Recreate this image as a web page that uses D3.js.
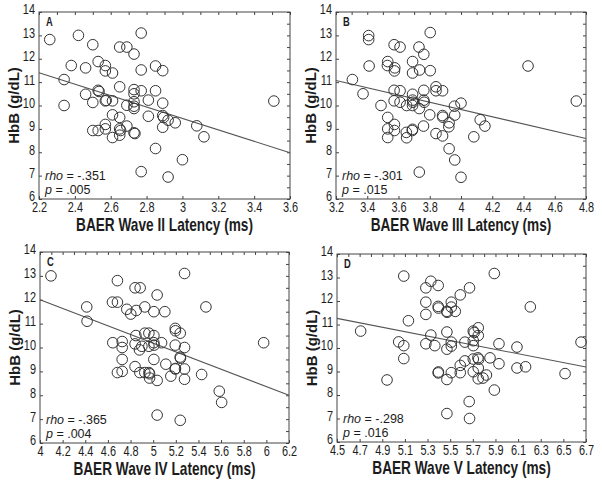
<!DOCTYPE html>
<html>
<head>
<meta charset="utf-8">
<script src="https://cdn.jsdelivr.net/npm/d3@7"></script>
<style>
  body { margin: 0; background: #fff; }
  text { font-family: "Liberation Sans", Arial, sans-serif; fill: #1c1c1c; }
</style>
</head>
<body>
<svg id="chart" width="602" height="483"></svg>
<script>
// ---- data ----
var hbTicks = [6, 7, 8, 9, 10, 11, 12, 13, 14];

// panel A: wave II latency vs HbB
var latA = [2.26,2.42,2.50,2.77,2.65,2.69,2.73,2.53,2.38,2.57,2.46,2.57,2.61,2.77,2.85,2.89,2.34,2.65,2.53,2.535,2.73,2.73,2.77,2.85,2.46,2.34,2.50,2.57,2.575,2.61,2.69,2.73,2.73,2.73,2.81,2.89,2.61,2.65,2.81,2.89,2.895,2.92,2.96,2.57,2.57,2.50,2.53,2.65,2.655,2.69,2.89,3.08,3.12,2.61,2.65,2.73,2.735,2.85,3.00,2.77,2.92,3.51];
var hbA  = [12.82,13.0,12.6,13.1,12.5,12.5,12.2,11.88,11.71,11.71,11.61,11.48,11.39,11.52,11.69,11.49,11.11,10.8,10.65,10.6,10.68,10.5,10.63,10.63,10.48,10.0,10.13,10.2,10.22,10.2,10.01,10.16,9.97,9.87,10.23,10.1,9.6,9.49,9.54,9.57,9.49,9.37,9.26,9.19,9.0,8.93,8.93,9.0,8.93,9.12,9.07,9.13,8.66,8.63,8.73,8.83,8.8,8.16,7.68,7.17,6.94,10.19];
var ticksA = [2.2, 2.4, 2.6, 2.8, 3, 3.2, 3.4, 3.6];
var fitA = [11.4, 7.98];

// panel B: wave III latency vs HbB
var latB = [3.305,3.373,3.409,3.409,3.412,3.488,3.531,3.529,3.531,3.531,3.531,3.572,3.61,3.576,3.574,3.572,3.61,3.572,3.61,3.574,3.574,3.652,3.65,3.652,3.69,3.69,3.69,3.69,3.692,3.69,3.69,3.688,3.731,3.735,3.733,3.733,3.762,3.762,3.762,3.764,3.76,3.803,3.803,3.80,3.84,3.84,3.84,3.882,3.882,3.884,3.882,3.924,3.922,3.924,3.958,3.96,3.96,4.0,4.0,4.082,4.123,4.153,4.429,4.738];
var hbB  = [11.11,10.5,12.99,12.82,11.69,10.0,11.88,11.71,9.49,9.0,8.63,12.6,12.5,11.61,11.48,10.65,10.63,10.2,10.14,9.19,8.93,10.0,8.85,8.62,11.88,11.39,10.48,10.23,10.14,10.0,8.98,8.93,12.5,11.52,9.87,7.15,12.19,10.65,10.23,10.14,9.12,13.12,11.49,9.6,10.8,10.63,8.8,10.63,9.57,9.5,8.7,9.26,9.09,8.15,9.97,9.59,7.67,10.1,6.93,8.66,9.39,9.12,11.69,10.19];
var ticksB = [3.2, 3.4, 3.6, 3.8, 4, 4.2, 4.4, 4.6, 4.8];
var fitB = [11.07, 8.59];

// panel C: wave IV latency vs HbB
var latC = [4.097,4.684,4.84,4.885,5.035,5.277,4.64,4.684,4.413,4.767,4.85,4.802,4.926,5.006,5.103,5.466,4.416,5.195,5.197,5.239,4.847,4.926,4.962,5.006,4.643,4.726,4.726,4.84,4.9,4.879,4.962,5.006,5.008,5.074,5.195,5.277,4.726,5.006,5.112,5.239,5.241,5.195,5.197,5.277,4.84,4.684,4.726,4.882,4.926,4.962,4.968,4.968,5.035,5.156,5.277,5.428,5.584,5.605,5.035,5.239,5.976];
var hbC  = [13.0,12.8,12.5,12.5,12.2,13.1,11.9,11.9,11.7,11.6,11.55,11.4,11.7,11.5,11.5,11.7,11.1,10.8,10.7,10.6,10.5,10.6,10.6,10.5,10.2,10.25,10.0,10.15,10.05,9.9,10.05,10.2,10.1,10.2,10.1,10.0,9.5,9.5,9.3,9.6,9.55,9.1,9.12,9.1,9.2,8.95,9.0,8.95,8.95,8.95,8.9,8.72,8.62,8.8,8.67,8.87,8.17,7.7,7.17,6.95,10.2];
var ticksC = [4, 4.2, 4.4, 4.6, 4.8, 5, 5.2, 5.4, 5.6, 5.8, 6, 6.2];
var fitC = [12.0, 8.0];

// panel D: wave V latency vs HbB
var latD = [4.709,4.942,5.045,5.09,5.09,5.09,5.131,5.285,5.329,5.394,5.285,5.285,5.329,5.285,5.364,5.394,5.396,5.394,5.396,5.471,5.473,5.51,5.51,5.545,5.471,5.471,5.51,5.51,5.51,5.471,5.471,5.589,5.671,5.589,5.589,5.63,5.63,5.668,5.671,5.704,5.712,5.748,5.748,5.704,5.704,5.704,5.704,5.745,5.752,5.748,5.748,5.79,5.82,5.852,5.89,5.89,5.931,5.931,6.09,6.09,6.166,6.208,6.515,6.656];
var hbD  = [10.72,8.64,10.26,10.1,9.55,13.06,11.16,12.56,12.84,12.66,11.95,11.43,10.55,10.18,10.1,11.77,11.7,8.94,8.98,11.56,11.52,11.95,11.74,11.56,10.68,9.95,10.25,10.08,8.95,8.66,7.21,12.26,12.56,9.26,8.95,9.45,10.25,7.72,7.0,10.72,10.66,10.86,10.53,10.31,10.1,9.53,8.99,9.58,9.52,9.15,8.69,8.72,8.85,9.58,13.17,8.21,10.18,9.33,10.04,9.15,9.2,11.75,8.91,10.25];
var ticksD = [4.5, 4.7, 4.9, 5.1, 5.3, 5.5, 5.7, 5.9, 6.1, 6.3, 6.5, 6.7];
var fitD = [11.26, 9.19];

var letters = ["A", "B", "C", "D"];
var xTitles = ["BAER Wave II Latency (ms)", "BAER Wave III Latency (ms)", "BAER Wave IV Latency (ms)", "BAER Wave V Latency (ms)"];
var rhos = ["-.351", "-.301", "-.365", "-.298"];
var pvals = [".005", ".015", ".004", ".016"];

// ---- layout ----
var boxes = [
  {x0: 39,  x1: 290, y0: 12,  y1: 199},
  {x0: 336, x1: 586, y0: 12,  y1: 199},
  {x0: 40,  x1: 289, y0: 252, y1: 443},
  {x0: 337, x1: 586, y0: 254, y1: 442}
];

var panels = [
  {lat: latA, hb: hbA, ticks: ticksA, fit: fitA},
  {lat: latB, hb: hbB, ticks: ticksB, fit: fitB},
  {lat: latC, hb: hbC, ticks: ticksC, fit: fitC},
  {lat: latD, hb: hbD, ticks: ticksD, fit: fitD}
];

// the figure's horizontal text looks squeezed sideways
var squeeze = 0.78;

var svg = d3.select("#chart");
var stroke = "#444";

function label(g, x, y, str, size, bold, anchor) {
  return g.append("text")
    .attr("transform", "translate(" + x + "," + y + ") scale(" + squeeze + ",1)")
    .attr("text-anchor", anchor || "start")
    .style("font-size", size + "px")
    .style("font-weight", bold ? "bold" : "normal")
    .text(str);
}

panels.forEach(function(p, i) {
  var b = boxes[i];
  var xd = [p.ticks[0], p.ticks[p.ticks.length - 1]];
  var x = d3.scaleLinear().domain(xd).range([b.x0, b.x1]);
  var y = d3.scaleLinear().domain([6, 14]).range([b.y1, b.y0]);
  var g = svg.append("g");

  // minor tick positions for top/right edges
  var step = p.ticks[1] - p.ticks[0];
  var xMinor = d3.range(0, (p.ticks.length - 1) * 2 + 1).map(function(k) { return xd[0] + k * step / 2; });
  var yMinor = d3.range(0, 17).map(function(k) { return 6 + k / 2; });

  var xb = g.append("g").attr("transform", "translate(0," + b.y1 + ")")
    .call(d3.axisBottom(x).tickValues(p.ticks).tickSize(-3).tickPadding(3).tickFormat(d3.format("")));
  var yl = g.append("g").attr("transform", "translate(" + b.x0 + ",0)")
    .call(d3.axisLeft(y).tickValues(hbTicks).tickSize(-3).tickPadding(4).tickFormat(d3.format("")));
  var xt = g.append("g").attr("transform", "translate(0," + b.y0 + ")")
    .call(d3.axisTop(x).tickValues(xMinor).tickSize(-3).tickFormat(""));
  var yr = g.append("g").attr("transform", "translate(" + b.x1 + ",0)")
    .call(d3.axisRight(y).tickValues(yMinor).tickSize(-3).tickFormat(""));

  [xb, yl, xt, yr].forEach(function(a) {
    a.select(".domain").remove();
    a.selectAll("line").attr("stroke", stroke);
    a.selectAll("text").attr("fill", "#1c1c1c").style("font-size", "14px")
      .style("font-family", '"Liberation Sans", Arial, sans-serif')
      .attr("transform", "scale(" + squeeze + ",1)");
  });
  // y labels sit a little above their ticks in the figure
  yl.selectAll("text").attr("x", -4 / squeeze).attr("dy", "0.14em");

  // frame
  g.append("rect").attr("x", b.x0).attr("y", b.y0)
    .attr("width", b.x1 - b.x0).attr("height", b.y1 - b.y0)
    .attr("fill", "none").attr("stroke", stroke).attr("stroke-width", 1);

  // regression line
  g.append("line")
    .attr("x1", x(xd[0])).attr("y1", y(p.fit[0]))
    .attr("x2", x(xd[1])).attr("y2", y(p.fit[1]))
    .attr("stroke", "#555").attr("stroke-width", 1.1);

  // points
  g.selectAll("circle.pt").data(p.lat).enter().append("circle")
    .attr("class", "pt")
    .attr("cx", function(d) { return x(d); })
    .attr("cy", function(d, k) { return y(p.hb[k]); })
    .attr("r", 5.3)
    .attr("fill", "none")
    .attr("stroke", "#333")
    .attr("stroke-width", 1);

  // panel letter
  label(g, b.x0 + 7, b.y0 + 13.5, letters[i], 12, true);

  // stats, two lines in one text block
  var st = g.append("text").attr("x", b.x0 + 6).attr("y", b.y1 - 19.5)
    .style("font-family", '"Liberation Sans", Arial, sans-serif').style("font-size", "12.5px");
  st.append("tspan").style("font-style", "italic").text("rho");
  st.append("tspan").text(" = " + rhos[i]);
  st.append("tspan").attr("x", b.x0 + 6).attr("dy", 14.2).style("font-style", "italic").text("p");
  st.append("tspan").text(" = " + pvals[i]);

  // axis titles
  label(g, (b.x0 + b.x1) / 2, b.y1 + 32, xTitles[i], 17.5, true, "middle");
  g.append("text")
    .attr("transform", "translate(" + (b.x0 - 20.5) + "," + ((b.y0 + b.y1) / 2) + ") rotate(-90)")
    .attr("text-anchor", "middle").style("font-weight", "bold").style("font-size", "15px")
    .text("HbB (g/dL)");
});
</script>
</body>
</html>
